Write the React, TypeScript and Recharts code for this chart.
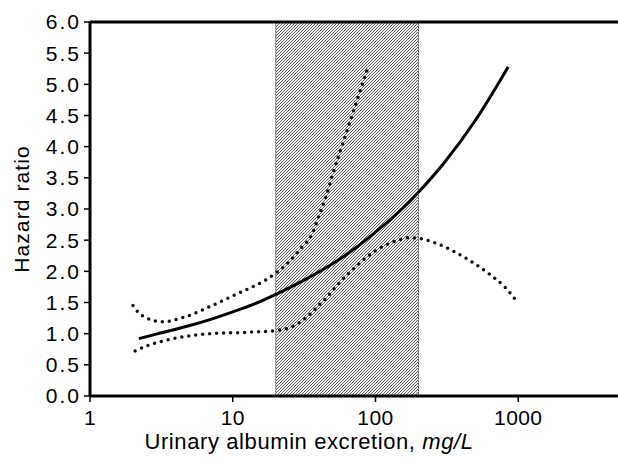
import React from "react";
import {
  LineChart,
  Line,
  XAxis,
  YAxis,
  ReferenceArea,
  ReferenceLine,
  Label,
} from "recharts";

// albumin (mg/L) and hazard ratio
const hrAlbumin = [2.2, 3, 5, 7, 10, 15, 20, 30, 50, 70, 100, 150, 200, 300, 500, 850];
const hrValues = [0.92, 1.0, 1.13, 1.23, 1.35, 1.5, 1.63, 1.83, 2.12, 2.35, 2.63, 2.98, 3.27, 3.73, 4.42, 5.28];

const upperAlbumin = [2, 2.2, 2.5, 3.2, 4.5, 7, 11, 17, 20, 25, 30, 36, 40, 45, 50, 61, 72, 87];
const upperValues = [1.45, 1.33, 1.25, 1.19, 1.26, 1.44, 1.65, 1.86, 1.97, 2.16, 2.37, 2.6, 2.88, 3.2, 3.55, 4.15, 4.65, 5.22];

const lowerAlbumin = [2.07, 2.6, 3.5, 4.8, 7, 12, 20, 26.5, 32, 37, 41, 46, 53, 61, 70, 80, 100, 120, 150, 170, 200, 300, 430, 600, 820, 1000];
const lowerValues = [0.72, 0.82, 0.9, 0.96, 1.0, 1.02, 1.05, 1.12, 1.24, 1.37, 1.48, 1.59, 1.76, 1.91, 2.04, 2.16, 2.33, 2.43, 2.51, 2.54, 2.53, 2.4, 2.21, 1.99, 1.73, 1.49];

const xTicks = [1, 10, 100, 1000];
const yTicks = [0, 0.5, 1, 1.5, 2, 2.5, 3, 3.5, 4, 4.5, 5, 5.5, 6];
const shadedRange = [20, 200];

const toPoints = (xs: number[], ys: number[]) => xs.map((x, i) => ({ x, y: ys[i] }));

const hrData = toPoints(hrAlbumin, hrValues);
const upperData = toPoints(upperAlbumin, upperValues);
const lowerData = toPoints(lowerAlbumin, lowerValues);

const font = "'Liberation Sans', Arial, sans-serif";

const XLabel = (props: any) => {
  const vb = props.viewBox || {};
  return (
    <text
      x={vb.x + vb.width / 2 - 45}
      y={vb.y + 53}
      textAnchor="middle"
      fontFamily={font}
      fontSize={22}
      letterSpacing={0.6}
      fill="#000"
    >
      Urinary albumin excretion, <tspan fontStyle="italic">mg/L</tspan>
    </text>
  );
};

const YLabel = (props: any) => {
  const vb = props.viewBox || {};
  const cx = 21;
  const cy = vb.y + vb.height / 2;
  return (
    <text
      x={cx}
      y={cy}
      transform={`rotate(-90 ${cx} ${cy})`}
      textAnchor="middle"
      dominantBaseline="central"
      fontFamily={font}
      fontSize={21}
      letterSpacing={1.1}
      fill="#000"
    >
      Hazard ratio
    </text>
  );
};

export default function App() {
  return (
    <div style={{ position: "absolute", left: 0, top: 0, background: "#fff" }}>
      <LineChart
        width={618}
        height={463}
        margin={{ top: 22, right: 0, left: 0, bottom: 0 }}
      >
        <defs>
          <pattern id="hatch" patternUnits="userSpaceOnUse" width="3" height="3">
            <rect width="3" height="3" fill="#f2f2f2" />
            <path d="M-1,1 L1,-1 M0,3 L3,0 M2,4 L4,2" stroke="#505050" strokeWidth="0.9" />
          </pattern>
        </defs>
        <XAxis
          dataKey="x"
          type="number"
          scale="log"
          domain={[1, 5000]}
          ticks={xTicks}
          allowDataOverflow
          height={67}
          axisLine={{ stroke: "#000", strokeWidth: 3 }}
          tickLine={{ stroke: "#000", strokeWidth: 1.5 }}
          tickSize={6}
          tickMargin={8}
          tick={{ fill: "#000", fontSize: 21, fontFamily: font, letterSpacing: 0.4 }}
        >
          <Label content={XLabel} />
        </XAxis>
        <YAxis
          type="number"
          domain={[0, 6]}
          ticks={yTicks}
          width={90}
          axisLine={{ stroke: "#000", strokeWidth: 3 }}
          tickLine={{ stroke: "#000", strokeWidth: 1.5 }}
          tickSize={6}
          tickMargin={3}
          tickFormatter={(v: number) => v.toFixed(1)}
          tick={{ fill: "#000", fontSize: 21, fontFamily: font, letterSpacing: 2 }}
        >
          <Label content={YLabel} />
        </YAxis>
        <ReferenceArea
          x1={shadedRange[0]}
          x2={shadedRange[1]}
          y1={0}
          y2={6}
          fill="url(#hatch)"
          fillOpacity={1}
          stroke="#555"
          strokeWidth={1}
          strokeDasharray="2 1"
        />
        <ReferenceLine y={6} stroke="#000" strokeWidth={3} />
        <Line
          data={upperData}
          dataKey="y"
          type="monotone"
          stroke="#111"
          strokeWidth={3.5}
          strokeDasharray="0 7"
          strokeLinecap="round"
          dot={false}
          activeDot={false}
          isAnimationActive={false}
        />
        <Line
          data={lowerData}
          dataKey="y"
          type="monotone"
          stroke="#111"
          strokeWidth={3.5}
          strokeDasharray="0 7"
          strokeLinecap="round"
          dot={false}
          activeDot={false}
          isAnimationActive={false}
        />
        <Line
          data={hrData}
          dataKey="y"
          type="monotone"
          stroke="#000"
          strokeWidth={3}
          dot={false}
          activeDot={false}
          isAnimationActive={false}
        />
      </LineChart>
    </div>
  );
}
